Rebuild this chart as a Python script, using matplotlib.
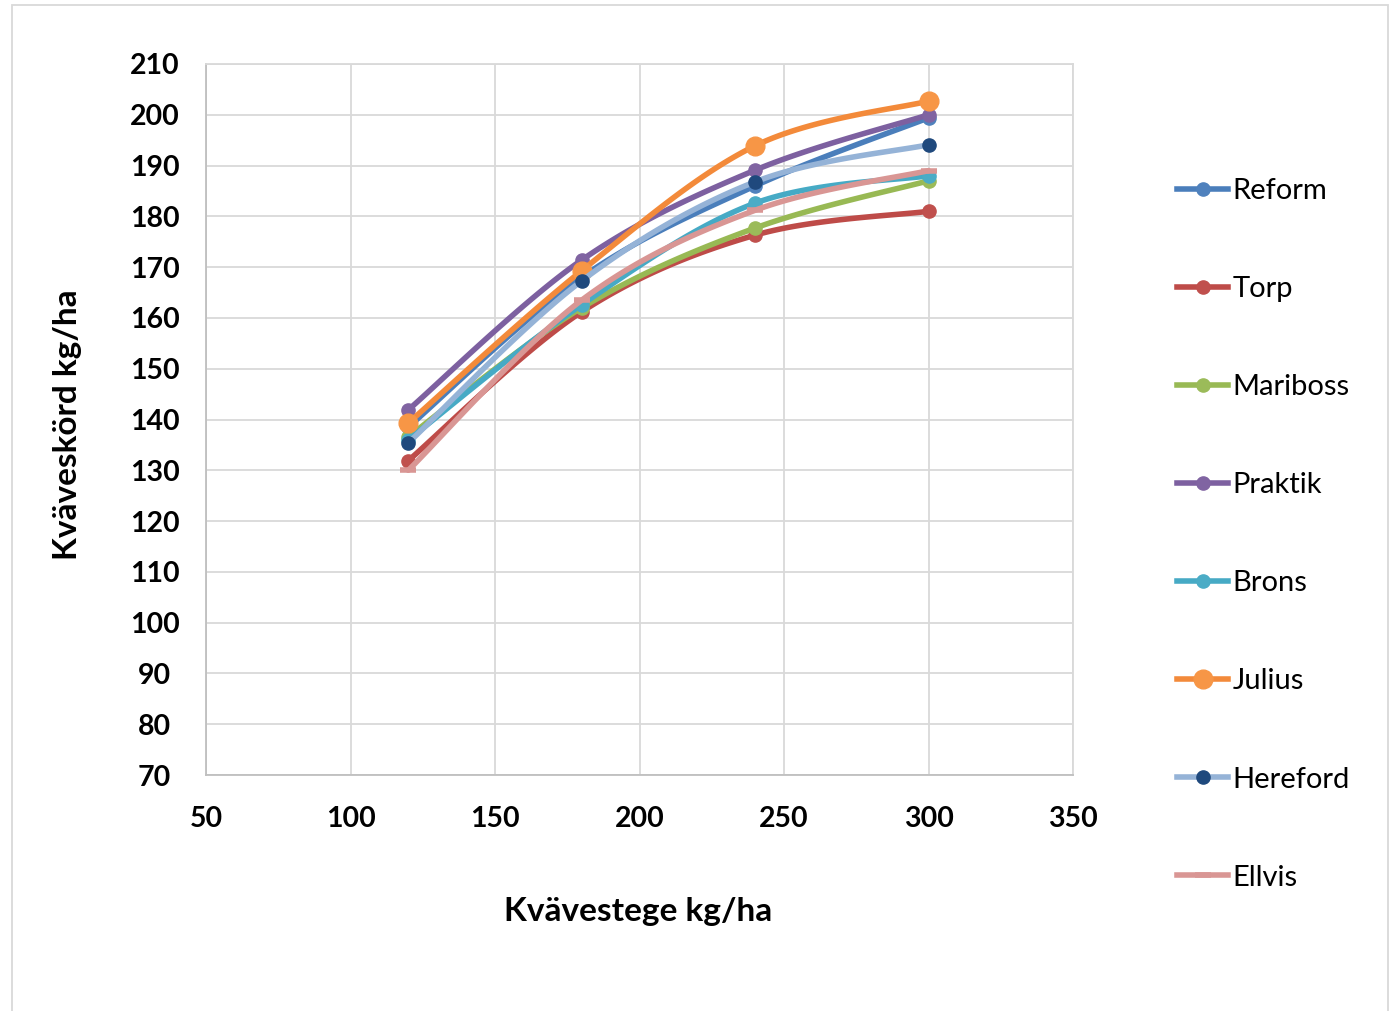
import numpy as np
import matplotlib.pyplot as plt
from matplotlib.lines import Line2D
from matplotlib.patches import Rectangle

# kvävegiva (kg N/ha)
kvave = [120, 180, 240, 300]

sorter = ['Reform', 'Torp', 'Mariboss', 'Praktik', 'Brons', 'Julius', 'Hereford', 'Ellvis']
reform = [138.5, 168.0, 186.0, 199.4]
torp = [131.9, 161.2, 176.3, 181.0]
mariboss = [136.6, 162.0, 177.7, 187.0]
praktik = [141.9, 171.4, 189.1, 200.0]
brons = [136.0, 162.6, 182.6, 188.0]
julius = [139.3, 169.3, 193.9, 202.7]
hereford = [135.4, 167.3, 186.8, 194.1]
ellvis = [130.0, 163.5, 181.2, 189.0]
values = [reform, torp, mariboss, praktik, brons, julius, hereford, ellvis]

line_colors = ['#4A7EBB', '#BE4B48', '#98B954', '#7D60A0', '#46AAC5', '#F38A3A', '#95B3D7', '#D99694']
marker_colors = ['#4F81BD', '#C0504D', '#9BBB59', '#8064A2', '#4BACC6', '#F79646', '#1F497D', '#D99694']


def smooth(x, y, n=40):
    # Excel-style smoothed line: cubic bezier with Catmull-Rom control points
    p = np.column_stack([x, y]).astype(float)
    pts = []
    for i in range(len(p) - 1):
        p0 = p[i - 1] if i > 0 else p[i]
        p1, p2 = p[i], p[i + 1]
        p3 = p[i + 2] if i + 2 < len(p) else p[i + 1]
        c1 = p1 + (p2 - p0) / 6
        c2 = p2 - (p3 - p1) / 6
        t = np.linspace(0, 1, n)[:, None]
        seg = (1 - t) ** 3 * p1 + 3 * (1 - t) ** 2 * t * c1 + 3 * (1 - t) * t ** 2 * c2 + t ** 3 * p2
        pts.append(seg if i == 0 else seg[1:])
    pts = np.vstack(pts)
    return pts[:, 0], pts[:, 1]


plt.rcParams['font.family'] = ['Lato', 'DejaVu Sans']

fig = plt.figure(figsize=(13.92, 10.11), dpi=100)
ax = fig.add_axes([206 / 1392, 1 - 775 / 1011, (1073 - 206) / 1392, (775 - 64) / 1011])

handles = []
for name, vals, lc, mc in zip(sorter, values, line_colors, marker_colors):
    sx, sy = smooth(kvave, vals)
    ax.plot(sx, sy, color=lc, lw=4, solid_capstyle='round')
    if name == 'Ellvis':
        ax.plot(kvave, vals, ls='none', marker='_', ms=12, mew=4, color=mc)
        h = Line2D([], [], color=lc, lw=4, marker='_', ms=12, mew=4, mec=mc)
    else:
        ms = 13.5 if name == 'Julius' else 9.5
        ax.plot(kvave, vals, ls='none', marker='o', ms=ms, color=mc, mec=mc)
        h = Line2D([], [], color=lc, lw=4, marker='o', ms=ms, mfc=mc, mec=mc)
    handles.append(h)

ax.set_xlim(50, 350)
ax.set_ylim(70, 210)
ax.set_xticks(np.arange(50, 351, 50))
ax.set_yticks(np.arange(70, 211, 10))
ax.grid(True, color='#D9D9D9', lw=1.3)
ax.set_axisbelow(True)
for s in ax.spines.values():
    s.set_color('#D9D9D9')
    s.set_linewidth(1.3)
ax.spines['left'].set_color('#BFBFBF')
ax.spines['bottom'].set_color('#BFBFBF')
ax.tick_params(length=0, labelsize=20.5)
ax.tick_params(axis='y', pad=37)
ax.tick_params(axis='x', pad=22)
for lab in ax.get_yticklabels():
    lab.set_horizontalalignment('center')
for lab in ax.get_xticklabels() + ax.get_yticklabels():
    lab.set_fontweight('bold')

fig.text(638 / 1392, 1 - 912 / 1011, 'Kvävestege kg/ha', ha='center', va='center',
         fontsize=24, fontweight='bold')
fig.text(68 / 1392, 1 - 425 / 1011, 'Kväveskörd kg/ha', ha='center', va='center',
         fontsize=24, fontweight='bold', rotation=90)

fig.legend(handles, sorter, loc='upper left', bbox_to_anchor=(1151 / 1392, 1 - 152 / 1011),
           frameon=False, fontsize=21, labelspacing=2.47, handlelength=1.75,
           handletextpad=0.15)

fig.patches.append(Rectangle((12 / 1392, -0.01), (1388 - 12) / 1392, 1.0 - 5 / 1011 + 0.01,
                             transform=fig.transFigure, fill=False, edgecolor='#D9D9D9', lw=1.3))

fig.savefig('out.png', dpi=100)
